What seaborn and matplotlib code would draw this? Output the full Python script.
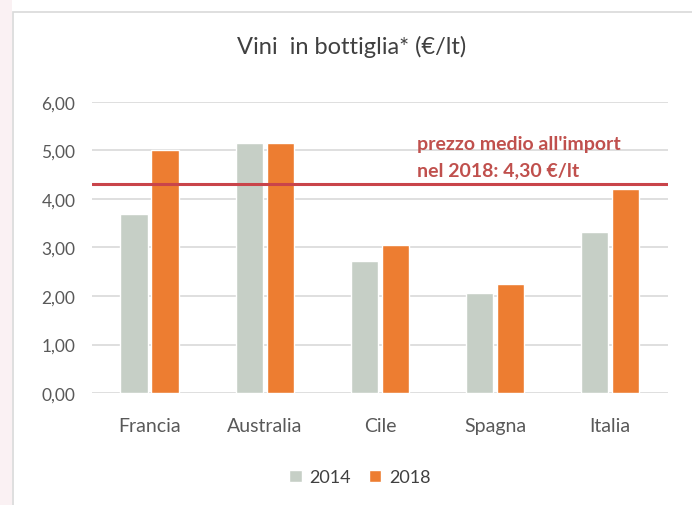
import matplotlib
matplotlib.use("Agg")
import matplotlib.pyplot as plt
import seaborn as sns
import pandas as pd
from matplotlib.patches import Rectangle

# Data (€/lt)
countries = ["Francia", "Australia", "Cile", "Spagna", "Italia"]
years = ["2014", "2018"]
values_2014 = [3.68, 5.16, 2.72, 2.06, 3.31]
values_2018 = [5.01, 5.16, 3.05, 2.24, 4.20]
avg_import_2018 = 4.30
yticks = [0, 1, 2, 3, 4, 5, 6]

df = pd.DataFrame({
    "Paese": countries * 2,
    "Anno": [years[0]] * len(countries) + [years[1]] * len(countries),
    "Prezzo": values_2014 + values_2018,
})

sns.set_theme(style="white")
plt.rcParams["font.family"] = ["Lato", "DejaVu Sans"]

fig = plt.figure(figsize=(6.92, 5.06), dpi=100)
ax = fig.add_axes([0.133, 0.221, 0.832, 0.576])

# faint pink strip at the left edge and the chart frame
fig.patches.append(Rectangle((0, 0), 12 / 692, 1, transform=fig.transFigure,
                             facecolor="#faf1f3", edgecolor="none"))
fig.patches.append(Rectangle((13 / 692, -0.01), 1.0, 1 - 13 / 506 + 0.01,
                             transform=fig.transFigure, fill=False,
                             edgecolor="#d9d9d9", linewidth=1.2))

palette = {"2014": "#c6cfc6", "2018": "#ed7d31"}
sns.barplot(data=df, x="Paese", y="Prezzo", hue="Anno", palette=palette,
            width=0.54, gap=0.12, saturation=1, ax=ax, zorder=3)

ax.set_ylim(0, 6)
ax.set_xlim(-0.5, len(countries) - 0.5)
ax.set_yticks(yticks)
ax.set_yticklabels([f"{v:.2f}".replace(".", ",") for v in yticks])
ax.yaxis.grid(True, color="#d9d9d9", linewidth=1.2, zorder=0)
ax.set_axisbelow(True)
for s in ax.spines.values():
    s.set_visible(False)
ax.tick_params(axis="both", length=0, colors="#595959")
ax.tick_params(axis="x", labelsize=14, pad=17)
ax.tick_params(axis="y", labelsize=12.5, pad=12)
ax.set_xlabel("")
ax.set_ylabel("")

# average import price line
ax.axhline(avg_import_2018, color="#c9444a", linewidth=2.2, zorder=4)
ax.text(2.32, 5.03, "prezzo medio all'import", color="#c0504d",
        fontsize=14, fontweight="bold", va="baseline")
ax.text(2.32, 4.48, "nel 2018: 4,30 €/lt", color="#c0504d",
        fontsize=14, fontweight="bold", va="baseline")

fig.text(352 / 692, 1 - 47 / 506, "Vini  in bottiglia* (€/lt)", fontsize=17,
         color="#404040", ha="center", va="center")

leg = ax.legend(loc="upper center", bbox_to_anchor=(0.465, -0.205), ncol=2,
                frameon=False, fontsize=13, handlelength=0.7, handleheight=0.7,
                columnspacing=1.0, handletextpad=0.4)
for t in leg.get_texts():
    t.set_color("#404040")

fig.savefig("out.png", dpi=100)
